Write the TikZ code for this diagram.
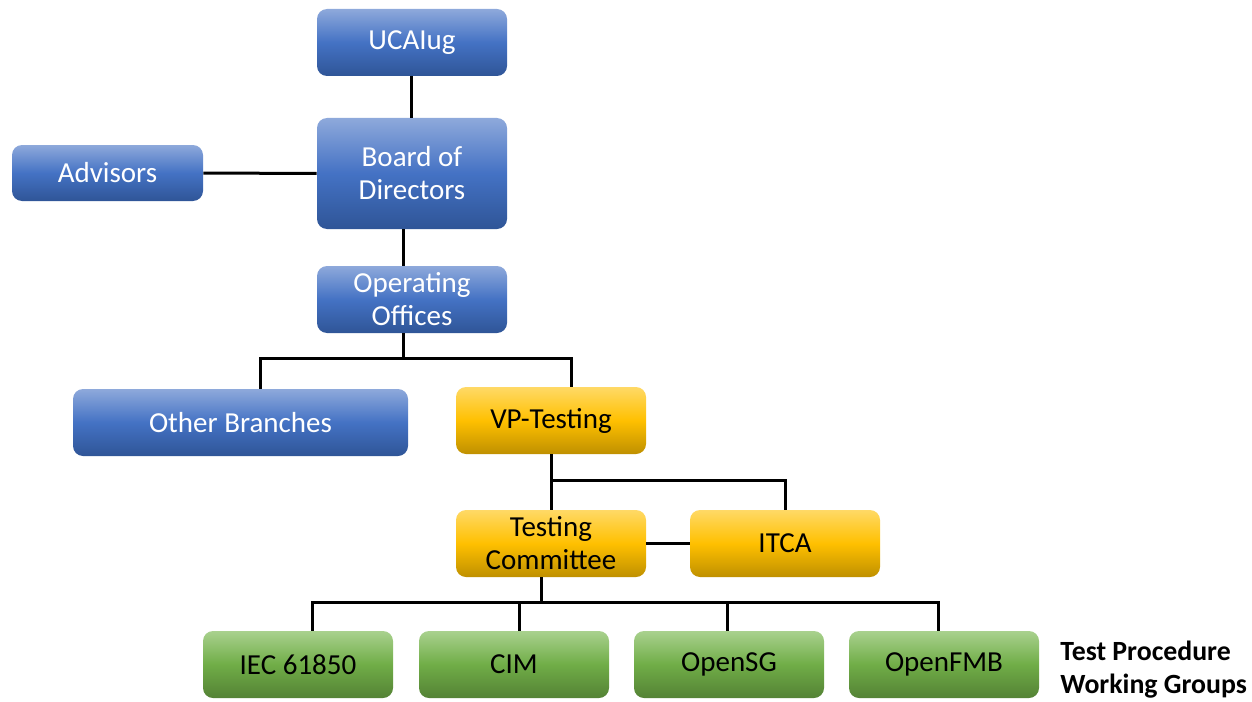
\documentclass[tikz,border=0pt]{standalone}
\usepackage{fontspec}
\setmainfont{Carlito}
\usetikzlibrary{calc}

\definecolor{blueTop}{HTML}{8EA9DB}
\definecolor{blueMid}{HTML}{4472C4}
\definecolor{blueBot}{HTML}{2F5597}
\definecolor{goldTop}{HTML}{FFD966}
\definecolor{goldMid}{HTML}{FFC000}
\definecolor{goldBot}{HTML}{BF9000}
\definecolor{greenTop}{HTML}{A9D18E}
\definecolor{greenMid}{HTML}{70AD47}
\definecolor{greenBot}{HTML}{548235}

\tikzset{
  orgbox/.style={rounded corners=5pt, inner sep=0pt, align=center,
    minimum width=95pt, minimum height=33.5pt,
    font=\fontsize{14.5}{16.5}\selectfont},
  bluebox/.style={orgbox, text=white,
    top color=blueTop, bottom color=blueBot, middle color=blueMid},
  goldbox/.style={orgbox, text=black,
    top color=goldTop, bottom color=goldBot, middle color=goldMid},
  greenbox/.style={orgbox, text=black,
    top color=greenTop, bottom color=greenBot, middle color=greenMid},
  link/.style={draw=black, line width=1.5pt}
}

\begin{document}
\begin{tikzpicture}[x=0.5pt,y=-0.5pt]
  \useasboundingbox (0,0) rectangle (1252,701);

  % top of the chart
  \node[bluebox] (ucaiug) at (412,42.5) {UCAIug};
  \node[bluebox, minimum height=55.5pt] (board) at (412,173.5) {Board of\\Directors};
  \node[bluebox, minimum width=95.5pt, minimum height=28pt] (advisors) at (107.5,173) {Advisors};
  \node[bluebox] (ops) at (412,299.5) {Operating\\Offices};
  \node[bluebox, minimum width=167.5pt] (other) at (240.5,422.5) {Other Branches};

  % testing branch
  \node[goldbox] (vpt) at (551,420.5) {VP-Testing};
  \node[goldbox] (tcom) at (551,543.5) {Testing\\Committee};
  \node[goldbox] (itca) at (785,543.5) {ITCA};

  % working groups
  \node[greenbox] (iec) at (298,664.5) {IEC 61850};
  \node[greenbox] (cim) at (514,664.5) {CIM};
  \node[greenbox] (osg) at (729,664.5) {OpenSG};
  \node[greenbox] (fmb) at (944,664.5) {OpenFMB};
  \node[anchor=west, align=left, inner sep=0pt,
    font=\fontsize{13.9}{16.5}\selectfont\bfseries]
    (wglabel) at (1060,670) {Test Procedure\\Working Groups};

  \coordinate (jops) at (403,358);
  \coordinate (jvp) at (551,480);
  \coordinate (jtc) at (541,602);

  \draw[link] (ucaiug.south -| 411,0) -- (board.north -| 411,0);
  \draw[link] (advisors) -- (board);
  \draw[link] (board.south -| jops) -- (ops.north -| jops);
  \draw[link] (ops.south -| jops) -- (jops);
  \draw[link] (other.north -| 260,0) |- (jops) -| (vpt.north -| 571,0);
  \draw[link] (vpt) -- (tcom);
  \draw[link] (jvp) -| (itca.north);
  \draw[link] (tcom) -- (itca);
  \draw[link] (tcom.south -| jtc) -- (jtc);
  \draw[link] (iec.north -| 312,0) |- (jtc) -| (fmb.north -| 938,0);
  \foreach \n/\x in {cim/519, osg/727}
    \draw[link] (\n.north -| \x,0) -- (\x,602);
\end{tikzpicture}
\end{document}
